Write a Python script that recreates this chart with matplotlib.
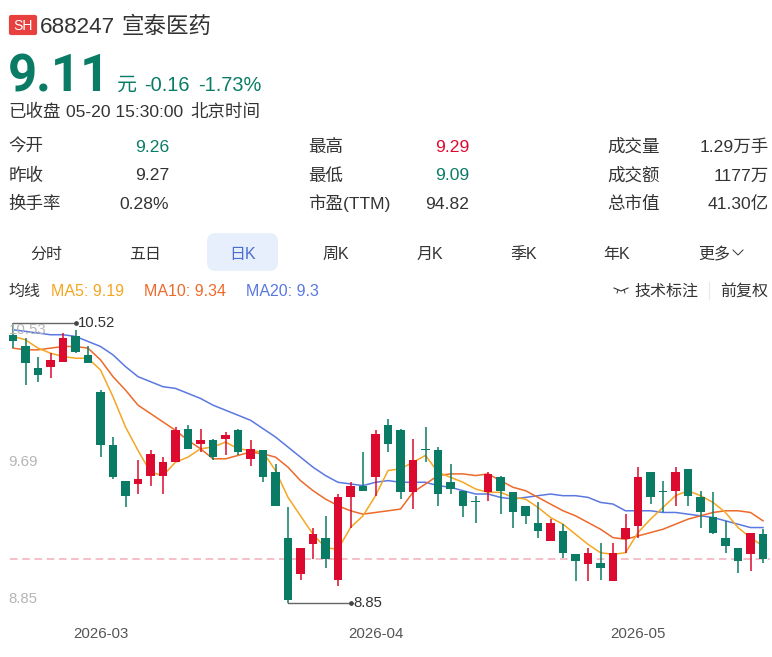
import matplotlib
matplotlib.use('Agg')
import matplotlib.pyplot as plt
from matplotlib.patches import FancyBboxPatch

plt.rcParams['font.family'] = ['Liberation Sans', 'Noto Sans CJK SC', 'DejaVu Sans']

opens = [10.45, 10.38, 10.25, 10.26, 10.29, 10.44, 10.33, 10.11, 9.79, 9.58,
         9.56, 9.61, 9.61, 9.69, 9.89, 9.80, 9.82, 9.83, 9.88, 9.71,
         9.76, 9.63, 9.24, 9.02, 9.20, 9.24, 8.99, 9.48, 9.55, 9.60,
         9.91, 9.88, 9.51, 9.77, 9.76, 9.57, 9.52, 9.46, 9.51, 9.60,
         9.51, 9.43, 9.33, 9.22, 9.28, 9.14, 9.08, 9.09, 8.98, 9.23,
         9.31, 9.63, 9.52, 9.52, 9.65, 9.48, 9.36, 9.24, 9.18, 9.14, 9.26]
closes = [10.41, 10.28, 10.21, 10.30, 10.43, 10.35, 10.28, 9.79, 9.60, 9.49,
          9.59, 9.74, 9.69, 9.88, 9.77, 9.82, 9.72, 9.85, 9.75, 9.77,
          9.60, 9.43, 8.87, 9.18, 9.26, 9.11, 9.48, 9.55, 9.52, 9.86,
          9.80, 9.51, 9.70, 9.76, 9.50, 9.53, 9.43, 9.45, 9.62, 9.52,
          9.39, 9.37, 9.28, 9.33, 9.15, 9.10, 9.15, 9.06, 9.15, 9.30,
          9.60, 9.48, 9.51, 9.63, 9.49, 9.39, 9.27, 9.19, 9.10, 9.27, 9.11]
highs = [10.52, 10.43, 10.32, 10.34, 10.46, 10.48, 10.38, 10.12, 9.84, 9.58,
         9.70, 9.76, 9.72, 9.90, 9.91, 9.89, 9.83, 9.87, 9.89, 9.82,
         9.76, 9.68, 9.42, 9.18, 9.30, 9.37, 9.50, 9.57, 9.75, 9.88,
         9.95, 9.89, 9.83, 9.90, 9.78, 9.68, 9.52, 9.49, 9.63, 9.61,
         9.51, 9.43, 9.45, 9.35, 9.32, 9.14, 9.18, 9.21, 9.21, 9.38,
         9.66, 9.63, 9.58, 9.66, 9.65, 9.52, 9.51, 9.34, 9.18, 9.27, 9.29]
lows = [10.37, 10.15, 10.17, 10.19, 10.29, 10.34, 10.28, 9.72, 9.59, 9.42,
        9.50, 9.55, 9.50, 9.69, 9.77, 9.75, 9.70, 9.73, 9.73, 9.67,
        9.57, 9.43, 8.85, 8.99, 9.11, 9.06, 8.95, 9.30, 9.52, 9.49,
        9.75, 9.47, 9.41, 9.69, 9.43, 9.50, 9.36, 9.33, 9.46, 9.38,
        9.30, 9.32, 9.24, 9.22, 9.12, 8.98, 8.98, 8.99, 8.98, 9.15,
        9.24, 9.44, 9.39, 9.43, 9.43, 9.30, 9.26, 9.15, 9.03, 9.04, 9.09]

ma5 = [10.44, 10.42, 10.37, 10.34, 10.32, 10.31, 10.31, 10.24, 10.08, 9.90,
       9.76, 9.63, 9.61, 9.69, 9.72, 9.77, 9.78, 9.81, 9.77, 9.76,
       9.75, 9.64, 9.48, 9.37, 9.26, 9.18, 9.17, 9.30, 9.37, 9.49,
       9.64, 9.65, 9.69, 9.73, 9.63, 9.60, 9.57, 9.53, 9.51, 9.51,
       9.48, 9.47, 9.42, 9.36, 9.32, 9.26, 9.20, 9.15, 9.14, 9.15,
       9.27, 9.35, 9.42, 9.49, 9.52, 9.49, 9.45, 9.39, 9.30, 9.24, 9.19]
ma10 = [10.37, 10.36, 10.36, 10.37, 10.38, 10.38, 10.37, 10.30, 10.20, 10.12,
        10.03, 9.98, 9.93, 9.88, 9.82, 9.77, 9.71, 9.71, 9.73, 9.75,
        9.74, 9.72, 9.66, 9.58, 9.52, 9.47, 9.43, 9.40, 9.38, 9.39,
        9.40, 9.41, 9.51, 9.56, 9.61, 9.62, 9.62, 9.61, 9.62, 9.58,
        9.54, 9.52, 9.48, 9.44, 9.40, 9.37, 9.33, 9.29, 9.24, 9.23,
        9.25, 9.27, 9.29, 9.32, 9.35, 9.37, 9.39, 9.40, 9.40, 9.39, 9.34]
ma20 = [10.48, 10.47, 10.46, 10.45, 10.45, 10.44, 10.41, 10.38, 10.33, 10.26,
        10.20, 10.17, 10.14, 10.13, 10.10, 10.07, 10.03, 10.00, 9.97, 9.94,
        9.89, 9.84, 9.78, 9.72, 9.66, 9.61, 9.57, 9.56, 9.55, 9.57,
        9.58, 9.57, 9.57, 9.57, 9.55, 9.54, 9.52, 9.50, 9.50, 9.48,
        9.47, 9.48, 9.49, 9.50, 9.49, 9.49, 9.48, 9.45, 9.44, 9.40,
        9.40, 9.40, 9.39, 9.39, 9.38, 9.37, 9.36, 9.34, 9.32, 9.30, 9.30]

date_ticks = [7, 29, 50]
date_labels = ['2026-03', '2026-04', '2026-05']
left_labels = ['今开', '昨收', '换手率']
left_values = ['9.26', '9.27', '0.28%']
mid_labels = ['最高', '最低', '市盈(TTM)']
mid_values = ['9.29', '9.09', '94.82']
right_labels = ['成交量', '成交额', '总市值']
right_values = ['1.29万手', '1177万', '41.30亿']
tabs = ['分时', '五日', '日K', '周K', '月K', '季K', '年K', '更多']

GREEN = '#0a7c66'
RED = '#dc0a2e'
TEXT = '#333333'
AMBER = '#f5a623'
ORANGE = '#ec6a2b'
BLUE = '#5a78e0'
AXIS_GREY = '#b5b5b5'

fig = plt.figure(figsize=(7.72, 6.57), dpi=100)

# page furniture, in pixel coordinates
ui = fig.add_axes([0, 0, 1, 1])
ui.set_xlim(0, 772)
ui.set_ylim(657, 0)
ui.axis('off')


def txt(x, y, s, size=17.5, color=TEXT, ha='left', weight='normal', **kw):
    ui.text(x, y, s, fontsize=size * 0.72, color=color, ha=ha, va='baseline', fontweight=weight, **kw)


ui.add_patch(FancyBboxPatch((11, 17), 24, 16, boxstyle='round,pad=0,rounding_size=0', fc='#e8403f', ec='#e8403f', lw=3, joinstyle='round'))
txt(23, 30, 'SH', size=14, color='white', ha='center')
txt(40, 33, '688247', size=22.5)
txt(122, 33, '宣泰医药', size=22.5)

txt(8, 91, '9.11', size=51, color=GREEN, weight='bold', family='Roboto')
txt(117, 91, '元', size=20, color=GREEN)
txt(144, 91, '-0.16', size=20, color=GREEN)
txt(198, 91, '-1.73%', size=20, color=GREEN)
txt(8.5, 117, '已收盘', size=17.5)
txt(66, 117, '05-20 15:30:00', size=17.5)
txt(190, 117, '北京时间', size=17.5)

row_y = [152, 180.5, 209]
for i in range(3):
    txt(8.5, row_y[i], left_labels[i])
    txt(308.5, row_y[i], mid_labels[i])
    txt(607.5, row_y[i], right_labels[i])
    txt(169, row_y[i], left_values[i], ha='right', color=GREEN if i == 0 else TEXT)
    mid_color = [RED, GREEN, TEXT][i]
    txt(469, row_y[i], mid_values[i], ha='right', color=mid_color)
    txt(769, row_y[i], right_values[i], ha='right')

ui.add_patch(FancyBboxPatch((215, 241), 55, 22, boxstyle='round,pad=8,rounding_size=9', fc='#e6effb', ec='none'))
tab_x = [46, 145, 243, 336, 430, 524, 617, 714]
for i in range(len(tabs)):
    txt(tab_x[i], 259, tabs[i], size=16, ha='center', color='#4a6fd0' if tabs[i] == '日K' else TEXT)
ui.plot([733, 738, 743], [250, 255, 250], color=TEXT, lw=0.7)

txt(8.5, 296, '均线', size=16)
txt(51, 296, 'MA5: 9.19', size=16, color=AMBER)
txt(144, 296, 'MA10: 9.34', size=16, color=ORANGE)
txt(246, 296, 'MA20: 9.3', size=16, color=BLUE)
ui.plot([614, 621, 628], [288, 291, 288], color=TEXT, lw=0.8)
ui.plot([618, 617], [290, 293], color=TEXT, lw=0.7)
ui.plot([624, 625], [290, 293], color=TEXT, lw=0.7)
txt(634, 296, '技术标注', size=16)
ui.plot([709, 709], [282, 299], color='#e8e8e8', lw=0.8)
txt(720, 296, '前复权', size=16)

# k line chart, axes span pixels 310..620 vertically and the whole width
ax = fig.add_axes([0, 37 / 657, 1, 310 / 657])
ax.patch.set_alpha(0)
per_px = 1.67 / 280
ax.set_xlim(-13 / 12.5, (772 - 13) / 12.5)
ax.set_ylim(10.52 - 297 * per_px, 10.52 + 13 * per_px)
for side in ax.spines:
    ax.spines[side].set_visible(False)

days = list(range(len(closes)))
ax.plot(days, ma20, color=BLUE, lw=1.1, zorder=2)
ax.plot(days, ma10, color=ORANGE, lw=1.1, zorder=2)
ax.plot(days, ma5, color=AMBER, lw=1.1, zorder=2)
ax.axhline(closes[-1], xmin=10 / 772, xmax=770 / 772, color='#f3aeb9', lw=1.1, ls=(0, (5, 3)), zorder=1)

for i in days:
    color = RED if closes[i] > opens[i] else GREEN
    ax.vlines(i, lows[i], highs[i], color=color, lw=1.1, zorder=3)
    ax.bar(i, abs(closes[i] - opens[i]), 0.7, bottom=min(opens[i], closes[i]), color=color, zorder=4)

# high and low markers
hi = highs.index(max(highs))
lo = lows.index(min(lows))
ax.plot([hi, hi + 5], [highs[hi], highs[hi]], color='#666666', lw=1.0, zorder=5)
ax.plot([hi + 5], [highs[hi]], 'o', color='#444444', ms=2.4, zorder=5)
ax.text(hi + 5.2, highs[hi], '%.2f' % highs[hi], fontsize=10.7, color=TEXT, va='center')
ax.plot([lo, lo + 5], [lows[lo], lows[lo]], color='#666666', lw=1.0, zorder=5)
ax.plot([lo + 5], [lows[lo]], 'o', color='#444444', ms=2.4, zorder=5)
ax.text(lo + 5.2, lows[lo], '%.2f' % lows[lo], fontsize=10.7, color=TEXT, va='center')

# y labels sit inside the plot, nudged off their price like the original
ax.annotate('10.53', (-0.36, 10.53), xytext=(0, -6), textcoords='offset points', fontsize=10.8, color=AXIS_GREY, va='center', zorder=6)
ax.annotate('9.69', (-0.36, 9.69), xytext=(0, 0), textcoords='offset points', fontsize=10.8, color=AXIS_GREY, va='center', zorder=6)
ax.annotate('8.85', (-0.36, 8.85), xytext=(0, 3), textcoords='offset points', fontsize=10.8, color=AXIS_GREY, va='center', zorder=6)
ax.set_yticks([])
ax.set_xticks(date_ticks)
ax.set_xticklabels(date_labels, fontsize=10.8, color='#555555')
ax.tick_params(axis='x', length=0, pad=5)

fig.savefig('out.png', dpi=100)
